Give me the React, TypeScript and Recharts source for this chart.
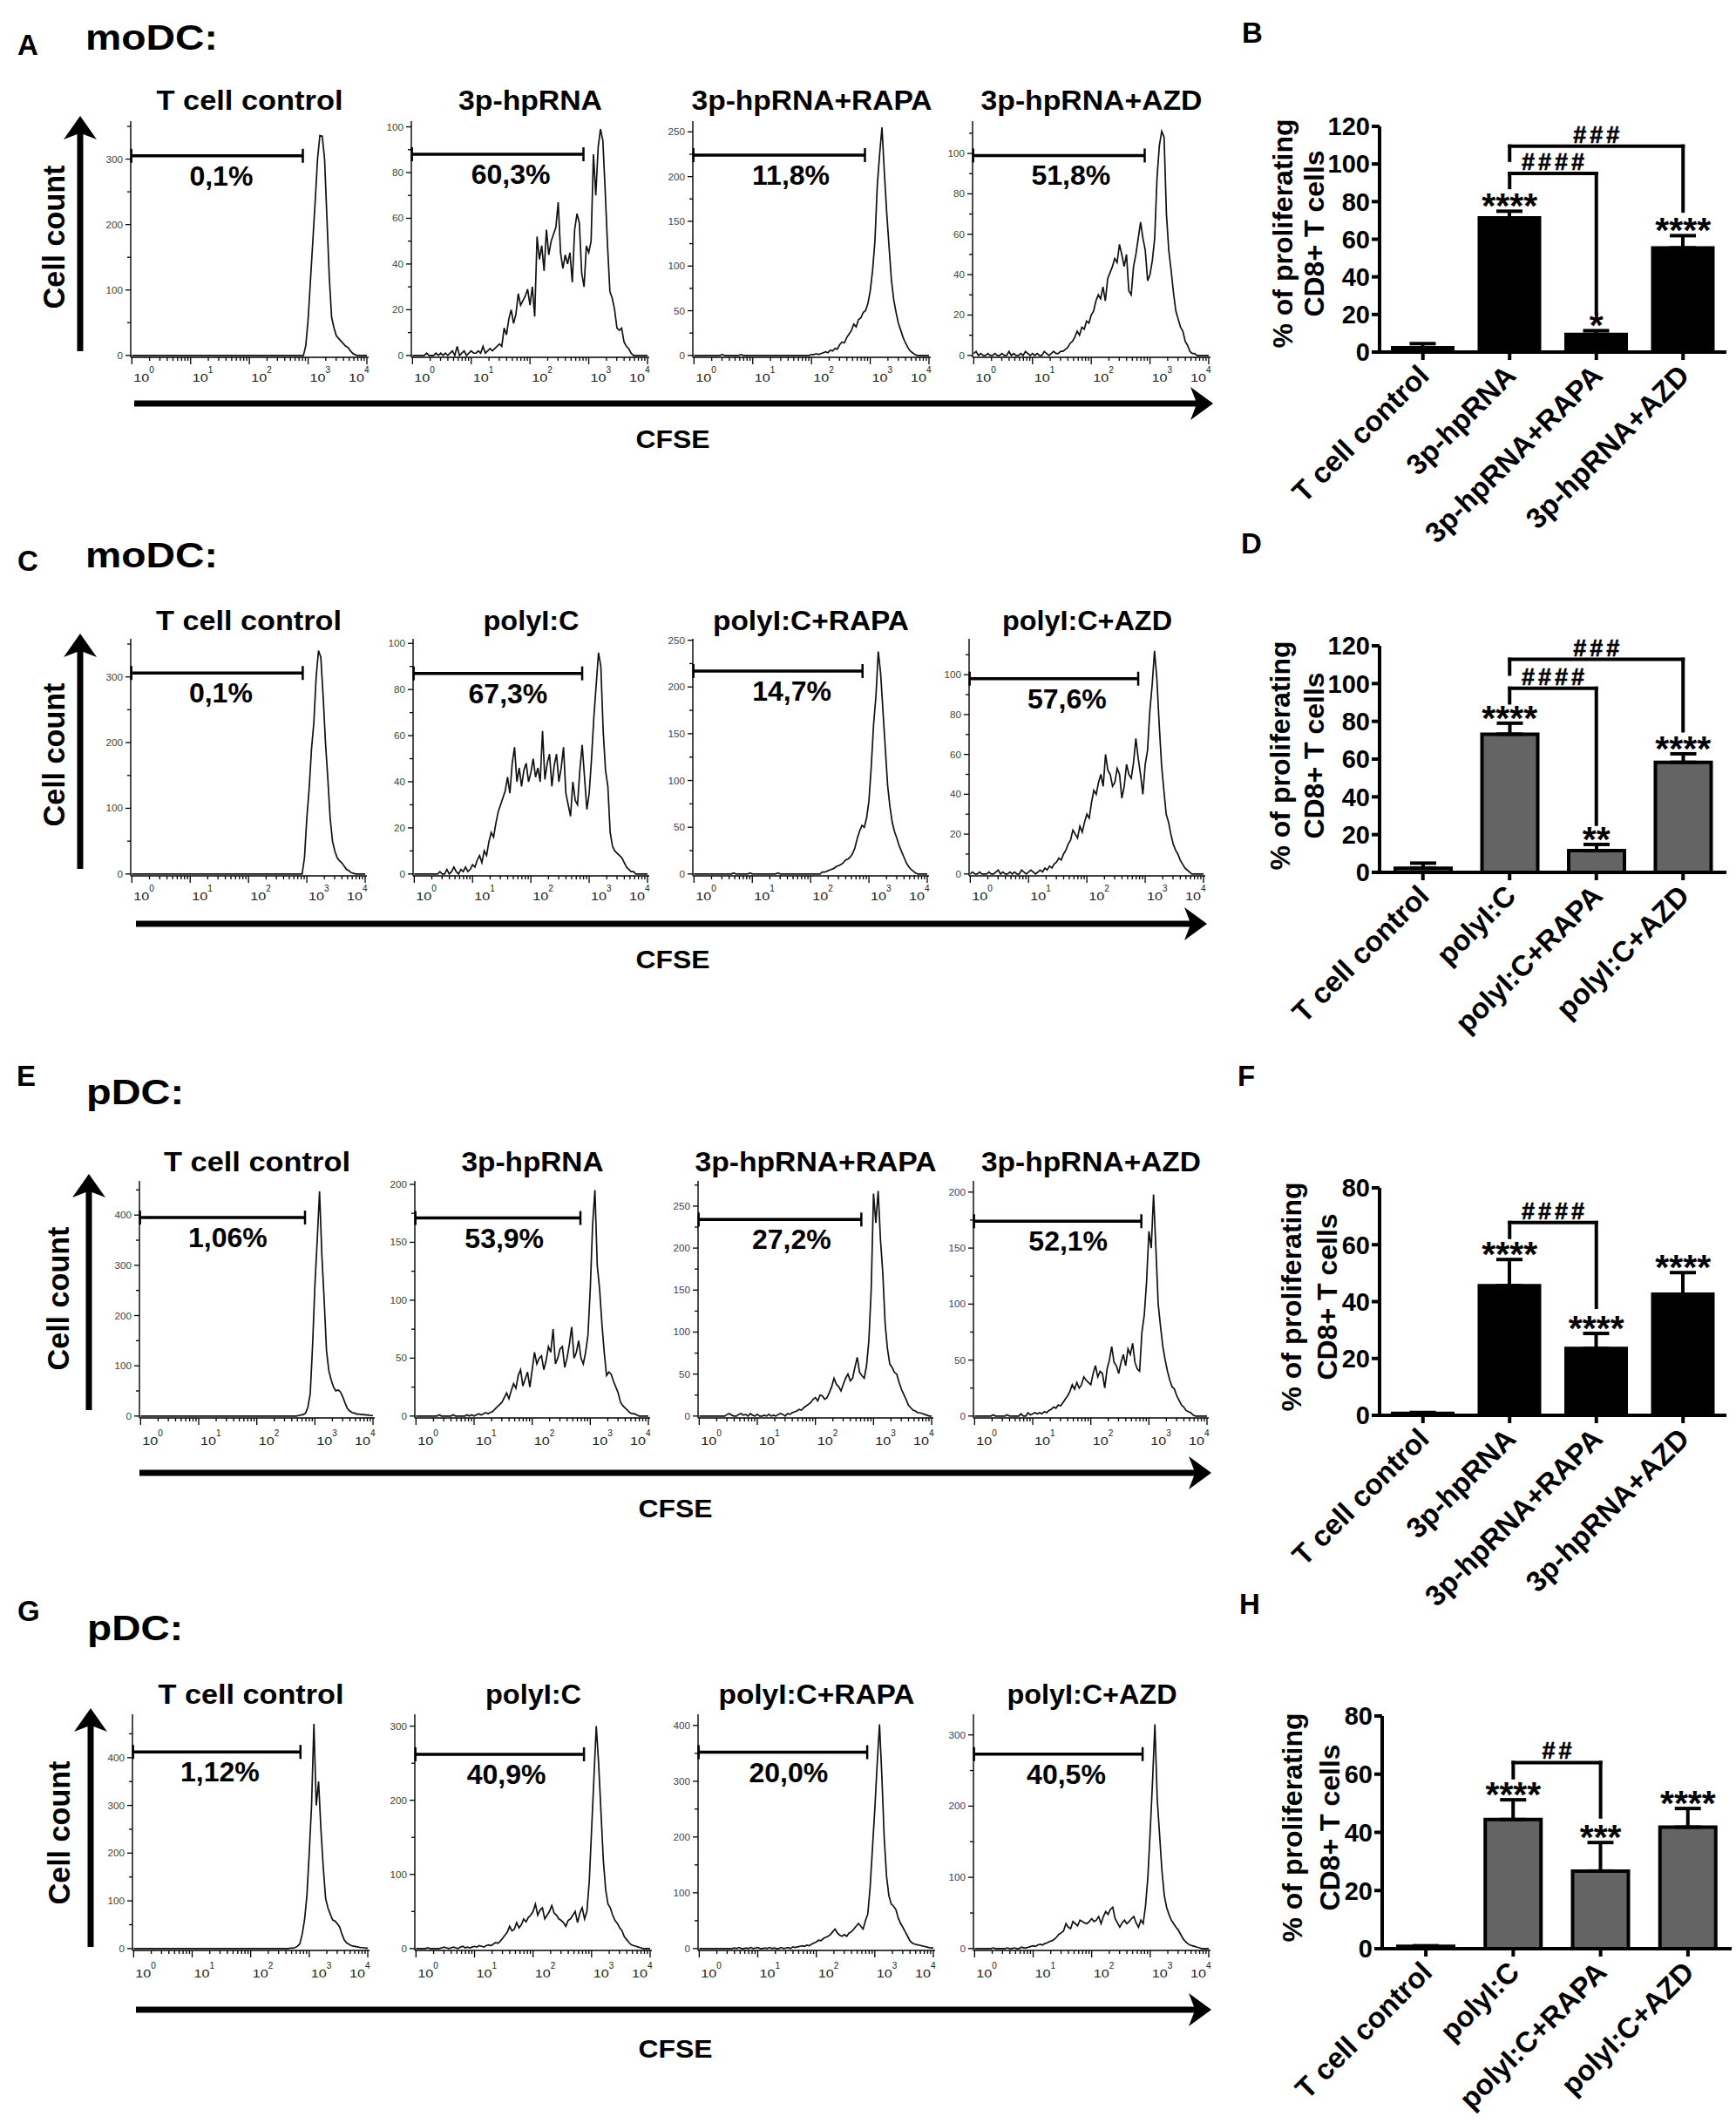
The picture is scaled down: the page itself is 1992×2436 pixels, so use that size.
import React from 'react';
import { LineChart, Line, XAxis, YAxis, ReferenceLine, ReferenceDot, BarChart, Bar, ErrorBar } from 'recharts';

const FONT = '"Liberation Sans", Arial, Helvetica, sans-serif';
const BIN_STEP = 0.04; // width of one histogram bin, in decades of CFSE intensity

// ======================= HISTOGRAM DATA (cell counts per bin, bin i at 10^(i*0.04)) =======================
// Row A : moDC, 3p-hpRNA
const titlesA = ['T cell control', '3p-hpRNA', '3p-hpRNA+RAPA', '3p-hpRNA+AZD'];
const pctA = ['0,1%', '60,3%', '11,8%', '51,8%'];
const gateYA = [305, 88, 224, 99];
const gateXA = [2.91, 2.91, 2.91, 2.91];
const pctXA = [0.98, 1.0, 0.99, 0.98];
const yTopA = [358, 102.5, 262, 116];
const yStepA = [100, 20, 50, 20];
const histA1 = [
  0,0,0,0,0,0,0,0,0,0, 0,0,0,0,0,0,0,0,0,0, 0,0,0,0,0,0,0,0,0,0, 0,0,0,0,0,0,0,0,0,0,
  0,0,0,0,0,0,0,0,0,0, 0,0,0,0,0,0,0,0,0,0, 0,0,0,0,0,0,0,0,0,0,
  0,0,0,0,15,55,115,175,235,300, 336,335,300,210,120,58,42,30,26,22, 18,14,12,7,3,1,0,0,0,0, 0];
const histA2 = [
  0,0,0,0,0,0,1,0,0,0, 1,0,1,0,1,0,1,2,0,4, 0,1,2,0,1,2,1,1,2,1, 4,1,2,3,2,3,4,5,4,12,
  9,16,20,14,18,27,22,24,26,29, 22,30,17,52,42,48,37,55,44,50, 53,56,67,45,38,44,40,45,32,55,
  62,58,36,30,48,45,50,88,70,91, 99,94,72,48,28,25,20,12,11,12, 6,4,3,1,0,0,0,0,0,0, 0];
const histA3 = [
  0,0,0,0,0,0,0,0,0,0, 0,0,1,0,0,0,0,0,0,0, 1,0,0,0,0,0,0,0,0,0, 0,0,0,0,0,0,0,0,0,0,
  0,0,0,0,0,0,0,0,0,0, 1,1,2,1,2,3,4,3,6,5, 8,7,12,15,14,20,24,28,35,32,
  40,42,48,50,58,72,95,128,190,225, 255,205,160,122,85,62,48,36,28,20, 14,9,5,3,1,0,0,0,0,0, 0];
const histA4 = [
  1,2,0,1,0,0,1,0,0,1, 0,0,1,0,0,2,0,1,0,0, 1,0,2,1,0,1,0,1,0,0, 2,1,0,1,2,1,1,2,2,3,
  4,6,7,9,12,10,14,13,17,16, 20,22,27,30,28,34,27,38,41,44, 48,46,55,50,44,50,32,30,44,50,
  58,66,58,52,37,40,47,58,88,104, 111,108,70,52,42,31,22,18,14,12, 7,5,2,1,1,0,0,0,0,0, 0];

// Row C : moDC, polyI:C
const titlesC = ['T cell control', 'polyI:C', 'polyI:C+RAPA', 'polyI:C+AZD'];
const pctC = ['0,1%', '67,3%', '14,7%', '57,6%'];
const gateYC = [306, 87, 217, 98];
const gateXC = [2.93, 2.88, 2.89, 2.88];
const pctXC = [0.98, 0.93, 1.0, 0.98];
const yTopC = [358, 102, 251.5, 118];
const yStepC = [100, 20, 50, 20];
const histC1 = [
  0,0,0,0,0,0,0,0,0,0, 0,0,0,0,0,0,0,0,0,0, 0,0,0,0,0,0,0,0,0,0, 0,0,0,0,0,0,0,0,0,0,
  0,0,0,0,0,0,0,0,0,0, 0,0,0,0,0,0,0,0,0,0, 0,0,0,0,0,0,0,0,0,0,
  0,0,0,0,25,85,130,190,230,300, 340,330,270,200,145,85,50,35,25,20, 17,12,7,5,2,1,0,0,0,0, 0];
const histC2 = [
  0,0,0,0,0,0,0,0,0,0, 0,1,0,0,2,0,1,3,1,0, 2,1,3,1,2,4,3,6,8,5, 10,8,14,18,16,22,27,30,33,36,
  42,35,48,55,40,46,38,45,48,40, 44,50,42,46,40,62,41,48,52,38, 47,52,40,46,55,35,30,25,40,32,
  30,45,56,42,28,35,50,68,82,96, 90,62,45,38,18,12,10,9,8,7, 5,3,2,1,1,0,0,0,0,0, 0];
const histC3 = [
  0,0,0,0,0,0,0,0,0,0, 0,0,0,0,0,0,0,1,0,0, 0,0,0,0,1,0,0,0,0,0, 0,0,0,0,0,0,1,0,0,0,
  0,0,0,0,0,0,0,0,0,0, 0,0,0,0,0,2,2,3,4,5, 6,8,9,10,12,15,16,18,22,28,
  38,46,52,50,60,78,115,160,190,238, 215,175,135,95,72,55,45,38,30,24, 18,12,8,5,3,1,0,0,0,0, 0];
const histC4 = [
  0,1,0,0,1,0,0,0,1,0, 0,1,2,0,1,0,0,1,0,1, 0,0,2,1,0,1,2,1,0,1, 2,1,3,2,4,3,5,6,8,7,
  10,12,15,17,22,20,18,24,21,26, 30,28,36,42,40,46,50,44,60,52, 50,44,46,53,50,38,44,55,50,48,
  56,68,58,50,40,55,62,82,95,112, 98,75,55,42,30,26,20,15,12,10, 7,5,3,2,1,0,0,0,0,0, 0];

// Row E : pDC, 3p-hpRNA
const titlesE = ['T cell control', '3p-hpRNA', '3p-hpRNA+RAPA', '3p-hpRNA+AZD'];
const pctE = ['1,06%', '53,9%', '27,2%', '52,1%'];
const gateYE = [395, 171, 234, 174];
const gateXE = [2.83, 2.83, 2.79, 2.87];
const pctXE = [0.82, 0.84, 0.91, 0.93];
const yTopE = [468, 203, 280, 210];
const yStepE = [100, 50, 50, 50];
const histE1 = [
  0,0,0,0,0,0,0,0,0,0, 0,0,0,0,0,0,0,0,0,0, 0,0,0,0,0,0,0,0,0,0, 0,0,0,0,0,0,0,0,0,0,
  0,0,0,0,0,0,0,0,0,0, 0,0,0,0,0,0,0,0,0,0, 0,0,0,0,0,0,0,0,1,2,
  3,6,18,45,140,260,350,447,320,230, 130,90,72,58,50,52,48,38,26,15, 10,7,6,4,4,3,3,2,2,1, 1];
const histE2 = [
  0,0,0,0,0,0,0,0,0,0, 1,0,0,0,0,0,1,0,0,0, 0,0,1,0,1,0,1,2,1,2, 3,2,3,4,6,8,10,12,16,20,
  15,22,28,24,35,40,26,32,38,25, 40,55,45,50,52,40,48,60,55,75, 45,50,58,60,42,50,62,77,50,55,
  65,50,45,55,70,110,165,195,130,110, 80,55,35,38,36,30,25,20,12,9, 7,5,3,2,2,1,0,0,0,0, 0];
const histE3 = [
  0,0,0,0,0,0,0,0,0,0, 0,0,2,3,1,0,0,2,3,1, 2,0,3,1,0,2,0,0,1,0, 2,0,1,0,2,3,2,0,3,2,
  4,5,6,8,7,10,12,14,16,20, 22,18,25,24,20,22,28,35,45,38, 35,30,38,45,50,42,45,58,70,52,
  48,45,60,90,150,265,230,268,210,170, 110,80,62,58,52,50,40,32,26,20, 13,10,7,6,4,4,3,2,1,0, 0];
const histE4 = [
  0,0,0,0,0,0,0,0,1,0, 0,0,0,0,1,0,0,0,0,0, 2,0,0,3,1,2,3,2,3,2, 4,3,5,6,8,7,10,9,12,15,
  18,22,28,24,30,25,28,35,32,30, 28,38,45,35,40,38,25,42,50,62, 48,45,38,48,55,45,60,55,65,48,
  42,40,75,90,120,165,150,198,150,100, 80,62,50,40,32,26,24,18,14,10, 8,5,4,3,1,0,0,0,0,0, 0];

// Row G : pDC, polyI:C
const titlesG = ['T cell control', 'polyI:C', 'polyI:C+RAPA', 'polyI:C+AZD'];
const pctG = ['1,12%', '40,9%', '20,0%', '40,5%'];
const gateYG = [412, 262, 352, 273];
const gateXG = [2.85, 2.87, 2.87, 2.87];
const pctXG = [0.8, 0.87, 0.85, 0.89];
const yTopG = [491, 316, 420, 329];
const yStepG = [100, 100, 100, 100];
const histG1 = [
  0,0,0,0,0,0,0,0,0,0, 0,0,0,0,0,0,0,0,0,0, 0,0,0,0,0,0,0,0,0,0, 0,0,0,0,0,0,0,0,0,0,
  0,0,0,0,0,0,0,0,0,0, 0,0,0,0,0,0,0,0,0,0, 0,0,0,0,0,0,0,1,1,2,
  5,10,30,60,110,200,300,471,300,350, 250,170,105,85,72,60,58,52,45,30, 18,12,9,6,5,4,3,2,2,1, 1];
const histG2 = [
  0,0,0,0,0,1,0,0,0,0, 0,1,2,1,0,1,2,1,0,2, 3,1,2,1,2,3,2,4,3,2, 4,5,4,6,8,7,10,14,18,22,
  30,24,26,35,28,32,40,36,42,45, 50,60,45,52,55,40,45,50,58,48, 45,40,38,35,30,38,40,45,50,35,
  48,55,40,50,90,160,230,300,250,185, 120,80,60,55,45,38,34,28,24,16, 12,8,5,4,3,2,1,0,0,0, 0];
const histG3 = [
  0,0,0,0,0,0,0,0,0,0, 0,0,0,0,0,1,0,2,0,0, 1,0,2,0,1,2,0,0,1,0, 2,0,1,0,0,2,0,1,2,0,
  3,2,3,4,5,4,6,5,8,10, 12,15,14,18,20,22,25,30,35,28, 24,22,25,22,28,30,35,40,45,40,
  35,50,62,110,180,250,330,402,310,200, 130,95,80,76,70,55,45,38,30,22, 14,10,8,7,6,5,4,3,2,1, 1];
const histG4 = [
  0,0,0,0,0,0,0,0,1,0, 0,0,0,0,1,0,0,1,0,0, 2,1,1,2,3,4,3,5,6,5, 7,8,10,11,13,16,20,22,25,35,
  30,28,38,35,32,40,38,36,35,38, 42,38,40,45,35,45,52,48,55,58, 42,36,30,36,40,35,38,42,45,36,
  30,40,35,60,100,165,235,315,210,160, 110,75,58,48,40,35,30,26,20,14, 10,7,5,4,3,2,1,0,0,0, 0];

// ======================= BAR CHART DATA (% of proliferating CD8+ T cells, mean and SEM) =======================
const catsB = ['T cell control', '3p-hpRNA', '3p-hpRNA+RAPA', '3p-hpRNA+AZD'];
const meanB = [2.3, 71.3, 9.4, 55.4];
const semB = [2.2, 3.6, 2.0, 6.5];
const starsB = ['', '****', '*', '****'];
const bracketsB = [
  { from: 1, to: 3, y: 109.5, yL: 102, yR: 75, text: '###' },
  { from: 1, to: 2, y: 95, yL: 87.5, yR: 21.5, text: '####' },
];

const catsD = ['T cell control', 'polyI:C', 'polyI:C+RAPA', 'polyI:C+AZD'];
const meanD = [2.2, 73.2, 11.5, 58.3];
const semD = [2.7, 5.8, 3.3, 4.5];
const starsD = ['', '****', '**', '****'];
const bracketsD = [
  { from: 1, to: 3, y: 112.8, yL: 105, yR: 75, text: '###' },
  { from: 1, to: 2, y: 97.5, yL: 89.8, yR: 25.5, text: '####' },
];

const catsF = ['T cell control', '3p-hpRNA', '3p-hpRNA+RAPA', '3p-hpRNA+AZD'];
const meanF = [0.7, 45.6, 23.5, 42.6];
const semF = [0.3, 9.2, 5.3, 7.6];
const starsF = ['', '****', '****', '****'];
const bracketsF = [{ from: 1, to: 2, y: 67.8, yL: 62.6, yR: 38, text: '####' }];

const catsH = ['T cell control', 'polyI:C', 'polyI:C+RAPA', 'polyI:C+AZD'];
const meanH = [0.8, 44.4, 26.7, 41.8];
const semH = [0.2, 6.8, 9.8, 6.4];
const starsH = ['', '****', '***', '****'];
const bracketsH = [{ from: 1, to: 2, y: 64, yL: 58.8, yR: 45.3, text: '##' }];

// ======================= LAYOUT =======================
const ROWS = [
  { boxTop: 139, boxH: 271, boxW: 273, lefts: [150, 472, 795, 1116], titleY: 126, titleW: [214, 165, 276, 254], tickDy: 28,
    titles: titlesA, hists: [histA1, histA2, histA3, histA4], pct: pctA, gateY: gateYA, gateX: gateXA, pctX: pctXA, yTop: yTopA, yStep: yStepA },
  { boxTop: 733, boxH: 272, boxW: 271, lefts: [150, 474, 795, 1112], titleY: 723, titleW: [213, 110, 225, 195], tickDy: 28,
    titles: titlesC, hists: [histC1, histC2, histC3, histC4], pct: pctC, gateY: gateYC, gateX: gateXC, pctX: pctXC, yTop: yTopC, yStep: yStepC },
  { boxTop: 1355, boxH: 272, boxW: 270, lefts: [160, 476, 801, 1117], titleY: 1344, titleW: [214, 163, 277, 252], tickDy: 31,
    titles: titlesE, hists: [histE1, histE2, histE3, histE4], pct: pctE, gateY: gateYE, gateX: gateXE, pctX: pctXE, yTop: yTopE, yStep: yStepE },
  { boxTop: 1967, boxH: 271, boxW: 272, lefts: [152, 476, 801, 1117], titleY: 1955, titleW: [213, 110, 225, 195], tickDy: 31,
    titles: titlesG, hists: [histG1, histG2, histG3, histG4], pct: pctG, gateY: gateYG, gateX: gateXG, pctX: pctXG, yTop: yTopG, yStep: yStepG },
];

const LETTERS = [
  { t: 'A', x: 20, y: 63 }, { t: 'B', x: 1425, y: 49 },
  { t: 'C', x: 20, y: 655 }, { t: 'D', x: 1424, y: 635 },
  { t: 'E', x: 19, y: 1246 }, { t: 'F', x: 1420, y: 1246 },
  { t: 'G', x: 20, y: 1860 }, { t: 'H', x: 1422, y: 1852 },
];
const HEADERS = [
  { t: 'moDC:', x: 98, y: 57, w: 152 }, { t: 'moDC:', x: 98, y: 651, w: 152 },
  { t: 'pDC:', x: 99, y: 1267, w: 112 }, { t: 'pDC:', x: 100, y: 1882, w: 110 },
];
const VARROWS = [
  { x: 92, tip: 133, bottom: 403, tx: 74, ty: 272 },
  { x: 92, tip: 727, bottom: 997, tx: 74, ty: 866 },
  { x: 102, tip: 1347, bottom: 1618, tx: 79, ty: 1490 },
  { x: 104, tip: 1960, bottom: 2234, tx: 80, ty: 2103 },
];
const HARROWS = [
  { y: 463, x1: 154, x2: 1392, tx: 772, ty: 514 },
  { y: 1060, x1: 156, x2: 1385, tx: 772, ty: 1111 },
  { y: 1690, x1: 160, x2: 1390, tx: 775, ty: 1741 },
  { y: 2306, x1: 156, x2: 1390, tx: 775, ty: 2361 },
];
const BARPANELS = [
  { cats: catsB, means: meanB, sems: semB, stars: starsB, brackets: bracketsB, yMax: 120, plotL: 1583, plotR: 1981, plotT: 145, plotB: 404, fill: '#000', stroke: '#000', barSize: 69, lab1: 1483, lab2: 1519, labY: 268 },
  { cats: catsD, means: meanD, sems: semD, stars: starsD, brackets: bracketsD, yMax: 120, plotL: 1583, plotR: 1981, plotT: 741, plotB: 1001, fill: '#646464', stroke: '#000', barSize: 64, lab1: 1480, lab2: 1519, labY: 867 },
  { cats: catsF, means: meanF, sems: semF, stars: starsF, brackets: bracketsF, yMax: 80, plotL: 1583, plotR: 1981, plotT: 1363, plotB: 1624, fill: '#000', stroke: '#000', barSize: 69, lab1: 1493, lab2: 1534, labY: 1488 },
  { cats: catsH, means: meanH, sems: semH, stars: starsH, brackets: bracketsH, yMax: 80, plotL: 1586, plotR: 1987, plotT: 1969, plotB: 2236, fill: '#646464', stroke: '#000', barSize: 64, lab1: 1494, lab2: 1537, labY: 2097 },
];

// ======================= HISTOGRAM PANEL =======================
const X_DOMAIN = [-0.02, 4.03];
const X_TICKS = (() => {
  const t = [];
  for (let d = 0; d <= 4; d++) {
    t.push(d);
    if (d < 4) for (let m = 2; m <= 9; m++) t.push(d + Math.log10(m));
  }
  return t;
})();

function renderXTick(p, dy) {
  const v = p.payload.value;
  const major = Math.abs(v - Math.round(v)) < 1e-6;
  const lx = p.x + (Math.round(v) === 4 && major ? -21 : 2);
  return (
    <g>
      <line x1={p.x} x2={p.x} y1={p.y} y2={p.y + (major ? 8 : 4)} stroke="#000" strokeWidth={1.3} />
      {major ? (
        <g fontFamily={FONT} fill="#222">
          <text x={lx} y={p.y + dy} fontSize={12} textLength={18} lengthAdjust="spacingAndGlyphs">10</text>
          <text x={lx + 18} y={p.y + dy - 10} fontSize={10}>{Math.round(v)}</text>
        </g>
      ) : null}
    </g>
  );
}

function renderYTick(p, step) {
  const v = p.payload.value;
  const major = Math.abs(v / step - Math.round(v / step)) < 1e-6;
  const s = String(Math.round(v));
  return (
    <g>
      <line x1={p.x} x2={p.x - (major ? 6 : 4)} y1={p.y} y2={p.y} stroke="#000" strokeWidth={1.3} />
      {major ? (
        <text x={p.x - 9} y={p.y + 4} textAnchor="end" fontSize={11} fontFamily={FONT} fill="#444"
          textLength={s.length * 6.5} lengthAdjust="spacingAndGlyphs">{s}</text>
      ) : null}
    </g>
  );
}

function Histogram({ values, left, top, width, height, yTop, yStep, gateY, gateX, pctX, pct, tickDy }) {
  const data = values.map((v, i) => ({ x: Math.round(i * BIN_STEP * 100) / 100, y: v }));
  const yMin = -yTop * 0.008;
  const yTicks = [];
  for (let t = 0; t <= yTop + 1e-9; t += yStep) {
    yTicks.push(t);
    if (t + yStep / 2 < yTop) yTicks.push(t + yStep / 2);
  }
  const ML = 60, MT = 12, MB = 50, MR = 12;
  const capH = ((yTop - yMin) * 8) / height;
  const gx0 = -0.01;
  const boxLine = { stroke: '#000', strokeWidth: 1.4 };
  return (
    <div style={{ position: 'absolute', left: left - ML, top: top - MT }}>
      <LineChart width={width + ML + MR} height={height + MT + MB} data={data}
        margin={{ top: MT, right: MR, left: 0, bottom: 0 }}>
        <XAxis dataKey="x" type="number" domain={X_DOMAIN} ticks={X_TICKS} interval={0} tickSize={0} tickMargin={0}
          tickLine={false} axisLine={boxLine} height={MB} allowDataOverflow tick={(p) => renderXTick(p, tickDy)} />
        <XAxis xAxisId="top" orientation="top" type="number" domain={X_DOMAIN} height={0} tick={false}
          tickLine={false} axisLine={boxLine} allowDataOverflow />
        <YAxis type="number" domain={[yMin, yTop]} ticks={yTicks} interval={0} width={ML} tickSize={0} tickMargin={0}
          tickLine={false} axisLine={boxLine} allowDataOverflow tick={(p) => renderYTick(p, yStep)} />
        <YAxis yAxisId="right" orientation="right" type="number" domain={[yMin, yTop]} width={0} tick={false}
          tickLine={false} axisLine={boxLine} allowDataOverflow />
        <Line dataKey="y" type="linear" dot={false} stroke="#111" strokeWidth={1.7} isAnimationActive={false} />
        <ReferenceLine segment={[{ x: gx0, y: gateY }, { x: gateX, y: gateY }]} stroke="#000" strokeWidth={3.5} />
        <ReferenceLine segment={[{ x: gx0, y: gateY - capH }, { x: gx0, y: gateY + capH }]} stroke="#000" strokeWidth={2.5} />
        <ReferenceLine segment={[{ x: gateX, y: gateY - capH }, { x: gateX, y: gateY + capH }]} stroke="#000" strokeWidth={2.5} />
        <ReferenceDot x={pctX} y={gateY} r={0} fill="none" stroke="none"
          label={(lp) => (
            <text x={lp.viewBox.x} y={lp.viewBox.y + 34} fontSize={32} fontWeight={700} fontFamily={FONT} fill="#000">{pct}</text>
          )} />
      </LineChart>
    </div>
  );
}

// ======================= BAR PANEL =======================
const renderCatTick = (p) => {
  const x = p.x + 9;
  const y = p.y + 18;
  return (
    <text x={x} y={y} transform={`rotate(-45 ${x} ${y})`} textAnchor="end" fontSize={33} fontWeight={700}
      fontFamily={FONT} fill="#000">{p.payload.value}</text>
  );
};

function BarPanel({ cats, means, sems, stars, brackets, yMax, plotL, plotR, plotT, plotB, fill, stroke, barSize }) {
  const data = cats.map((c, i) => ({ cat: c, mean: means[i], err: [0, sems[i]] }));
  const YW = 110, MT = 30, XH = 230, MR = 8;
  const ticks = [];
  for (let t = 0; t <= yMax; t += 20) ticks.push(t);
  const W = plotR - plotL + YW + MR;
  const H = plotB - plotT + MT + XH;
  const lineStyle = { stroke: '#000', strokeWidth: 4 };
  const items = [];
  brackets.forEach((b, k) => {
    const a = cats[b.from];
    const c = cats[b.to];
    items.push(
      <ReferenceLine key={`bh${k}`} segment={[{ x: a, y: b.y }, { x: c, y: b.y }]} stroke="#000" strokeWidth={4} strokeLinecap="square"
        label={(lp) => (
          <text x={lp.viewBox.x + lp.viewBox.width / 2 + 2} y={lp.viewBox.y - 4} textAnchor="middle" fontSize={27}
            fontWeight={700} letterSpacing={4} fontFamily={FONT} fill="#000" stroke="#000" strokeWidth={0.6}>{b.text}</text>
        )} />
    );
    items.push(<ReferenceLine key={`bl${k}`} segment={[{ x: a, y: b.y }, { x: a, y: b.yL }]} stroke="#000" strokeWidth={4} strokeLinecap="square" />);
    items.push(<ReferenceLine key={`br${k}`} segment={[{ x: c, y: b.y }, { x: c, y: b.yR }]} stroke="#000" strokeWidth={4} strokeLinecap="square" />);
  });
  stars.forEach((s, i) => {
    if (!s) return;
    items.push(
      <ReferenceDot key={`s${i}`} x={cats[i]} y={means[i] + sems[i]} r={0} fill="none" stroke="none"
        label={(lp) => (
          <text x={lp.viewBox.x + (lp.viewBox.width || 0) / 2} y={lp.viewBox.y + 8} textAnchor="middle" fontSize={41}
            fontWeight={700} fontFamily={FONT} fill="#000">{s}</text>
        )} />
    );
  });
  return (
    <div style={{ position: 'absolute', left: plotL - YW, top: plotT - MT }}>
      <BarChart width={W} height={H} data={data} margin={{ top: MT, right: MR, left: 0, bottom: 0 }}>
        <XAxis dataKey="cat" type="category" interval={0} height={XH} axisLine={lineStyle} tickLine={lineStyle}
          tickSize={9} tick={renderCatTick} />
        <YAxis type="number" domain={[0, yMax]} ticks={ticks} interval={0} width={YW} axisLine={lineStyle}
          tickLine={lineStyle} tickSize={9} tickMargin={2} allowDataOverflow
          tick={{ fontSize: 29, fontWeight: 700, fill: '#000', fontFamily: FONT }} />
        <Bar dataKey="mean" fill={fill} stroke={stroke} strokeWidth={4} barSize={barSize} isAnimationActive={false}>
          <ErrorBar dataKey="err" width={15} stroke="#000" strokeWidth={4} direction="y" isAnimationActive={false} />
        </Bar>
        {items}
      </BarChart>
    </div>
  );
}

// ======================= OVERLAY (labels, arrows) =======================
function Overlay() {
  const kids = [];
  LETTERS.forEach((l, i) => kids.push(<text key={`L${i}`} x={l.x} y={l.y} fontSize={33}>{l.t}</text>));
  HEADERS.forEach((h, i) => kids.push(
    <text key={`H${i}`} x={h.x} y={h.y} fontSize={40} textLength={h.w} lengthAdjust="spacingAndGlyphs">{h.t}</text>
  ));
  ROWS.forEach((r, ri) => r.titles.forEach((t, i) => kids.push(
    <text key={`T${ri}${i}`} x={r.lefts[i] + r.boxW / 2} y={r.titleY} fontSize={31} textAnchor="middle"
      textLength={r.titleW[i]} lengthAdjust="spacingAndGlyphs">{t}</text>
  )));
  VARROWS.forEach((a, i) => {
    const { x, tip, bottom } = a;
    kids.push(<polygon key={`VA${i}`} fill="#000"
      points={`${x},${tip} ${x + 19},${tip + 27} ${x + 3.5},${tip + 21} ${x + 3.5},${bottom} ${x - 3.5},${bottom} ${x - 3.5},${tip + 21} ${x - 19},${tip + 27}`} />);
    kids.push(<text key={`VT${i}`} transform={`translate(${a.tx},${a.ty}) rotate(-90)`} textAnchor="middle" fontSize={35}
      textLength={165} lengthAdjust="spacingAndGlyphs">Cell count</text>);
  });
  HARROWS.forEach((a, i) => {
    const { y, x1, x2 } = a;
    kids.push(<polygon key={`HA${i}`} fill="#000"
      points={`${x2},${y} ${x2 - 26},${y - 19} ${x2 - 20},${y - 3.5} ${x1},${y - 3.5} ${x1},${y + 3.5} ${x2 - 20},${y + 3.5} ${x2 - 26},${y + 19}`} />);
    kids.push(<text key={`HT${i}`} x={a.tx} y={a.ty} textAnchor="middle" fontSize={30} textLength={85}
      lengthAdjust="spacingAndGlyphs">CFSE</text>);
  });
  BARPANELS.forEach((b, i) => {
    kids.push(<text key={`Y1${i}`} transform={`translate(${b.lab1},${b.labY}) rotate(-90)`} textAnchor="middle" fontSize={32}>% of proliferating</text>);
    kids.push(<text key={`Y2${i}`} transform={`translate(${b.lab2},${b.labY}) rotate(-90)`} textAnchor="middle" fontSize={32}>CD8+ T cells</text>);
  });
  return (
    <svg width={1992} height={2436} style={{ position: 'absolute', left: 0, top: 0, pointerEvents: 'none' }}
      fontFamily={FONT} fontWeight={700} fill="#000">
      {kids}
    </svg>
  );
}

export default function App() {
  return (
    <div style={{ position: 'absolute', left: 0, top: 0, width: 1992, height: 2436, background: '#fff', overflow: 'hidden', fontFamily: FONT }}>
      {ROWS.map((r, ri) => r.hists.map((h, i) => (
        <Histogram key={`${ri}-${i}`} values={h} left={r.lefts[i]} top={r.boxTop} width={r.boxW} height={r.boxH}
          yTop={r.yTop[i]} yStep={r.yStep[i]} gateY={r.gateY[i]} gateX={r.gateX[i]} pctX={r.pctX[i]} pct={r.pct[i]}
          tickDy={r.tickDy} />
      )))}
      {BARPANELS.map((b, i) => <BarPanel key={`b${i}`} {...b} />)}
      <Overlay />
    </div>
  );
}
